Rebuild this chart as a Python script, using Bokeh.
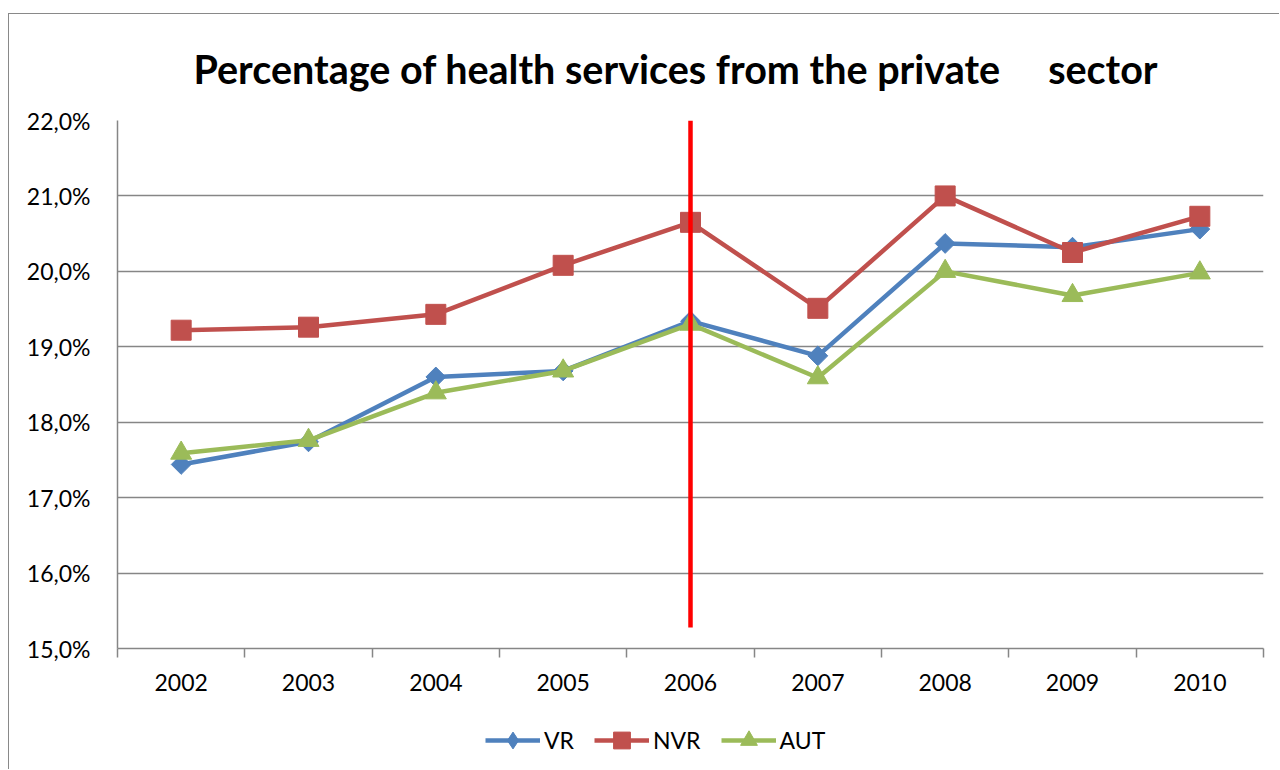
import numpy as np
from bokeh.plotting import figure
from bokeh.layouts import column
from bokeh.models import Range1d, FixedTicker, Legend, LegendItem, Title
from bokeh.embed import file_html
from bokeh.resources import INLINE

years = ["2002", "2003", "2004", "2005", "2006", "2007", "2008", "2009", "2010"]
vr = [17.44, 17.74, 18.60, 18.68, 19.34, 18.88, 20.37, 20.32, 20.56]
nvr = [19.22, 19.26, 19.43, 20.08, 20.65, 19.51, 21.00, 20.25, 20.73]
aut = [17.59, 17.76, 18.39, 18.68, 19.30, 18.59, 20.00, 19.68, 19.98]
y_ticks = [15, 16, 17, 18, 19, 20, 21, 22]
y_tick_labels = ["15,0%", "16,0%", "17,0%", "18,0%", "19,0%", "20,0%", "21,0%", "22,0%"]
marker_year = "2006"
marker_bottom = 15.28
marker_top = 22.0
title_text = "Percentage of health services from the private\u00a0\u00a0\u00a0\u00a0 sector"

FONT = "Lato"
GRAY = "#868686"
BORDER = "1px solid #898989"

xs = [i + 0.5 for i in range(len(years))]
bounds = [float(i) for i in range(len(years) + 1)]

p = figure(width=1271, height=699, output_backend="svg", toolbar_location=None,
           x_range=Range1d(0, len(years)), y_range=Range1d(15, 22),
           min_border_left=108, min_border_right=17, min_border_top=105, min_border_bottom=65,
           styles={"border-left": BORDER, "border-top": BORDER})
p.outline_line_color = None
p.background_fill_color = "white"
p.border_fill_color = "white"

t = Title(text=title_text, align="left", offset=76, standoff=57,
          text_font=FONT, text_font_size="39.5px", text_font_style="bold", text_color="black")
p.add_layout(t, "above")

# axes
p.xaxis.ticker = FixedTicker(ticks=xs, minor_ticks=bounds)
p.xaxis.major_label_overrides = {x: y for x, y in zip(xs, years)}
p.xaxis.minor_tick_line_color = GRAY
p.xaxis.minor_tick_in = 0
p.xaxis.minor_tick_out = 9
p.xaxis.major_label_standoff = 16
p.yaxis.ticker = FixedTicker(ticks=y_ticks, minor_ticks=[])
p.yaxis.major_label_overrides = {v: s for v, s in zip(y_ticks, y_tick_labels)}
p.yaxis.major_tick_in = 0
p.yaxis.major_tick_out = 9
p.yaxis.major_label_standoff = 18
for ax in (p.xaxis, p.yaxis):
    ax.axis_line_color = GRAY
    ax.axis_line_width = 1.5
    ax.major_tick_line_color = GRAY if ax is p.yaxis else None
    ax.major_tick_line_width = 1.5
    ax.minor_tick_line_width = 1.5
    ax.major_label_text_font = FONT
    ax.major_label_text_font_size = "23px"
    ax.major_label_text_color = "black"
p.xgrid.visible = False
p.ygrid.grid_line_color = GRAY
p.ygrid.grid_line_width = 1.5

# name, values, colour, chart marker, angle, size, legend marker, legend size
series = [
    ("VR", vr, "#4F81BD", "square", np.pi / 4, 14, "diamond", 22),
    ("NVR", nvr, "#C0504D", "square", 0, 20, "square", 20),
    ("AUT", aut, "#9BBB59", "triangle", 0, 21, "triangle", 21),
]

# legend strip (separate figure below the chart)
p2 = figure(width=1271, height=57, output_backend="svg", toolbar_location=None,
            x_range=Range1d(0, 1), y_range=Range1d(0, 1),
            x_axis_type=None, y_axis_type=None,
            min_border_left=0, min_border_right=0, min_border_top=0, min_border_bottom=0,
            styles={"border-left": BORDER})
p2.outline_line_color = None
p2.grid.visible = False
p2.background_fill_color = "white"
p2.border_fill_color = "white"

items = []
for name, vals, col, mk, ang, sz, lmk, lsz in series:
    p.line(xs, vals, line_color=col, line_width=4.5)
    p.scatter(xs, vals, marker=mk, angle=ang, size=sz, fill_color=col, line_color=col)
    # off-screen placeholder renderers that only feed the legend strip
    l2 = p2.line([-5, -4], [-5, -5], line_color=col, line_width=4.5)
    s2 = p2.scatter([-5], [-5], marker=lmk, size=lsz, fill_color=col, line_color=col)
    items.append(LegendItem(label=name, renderers=[l2, s2]))

xi = xs[years.index(marker_year)]
p.segment(x0=[xi], y0=[marker_bottom], x1=[xi], y1=[marker_top], line_color="#FF0000", line_width=4.5)

legend = Legend(items=items, orientation="horizontal", location=(368, 8),
                glyph_width=55, glyph_height=42, label_standoff=4, spacing=20,
                padding=0, margin=0, border_line_color=None, background_fill_alpha=0,
                label_text_font=FONT, label_text_font_size="23px", label_text_color="black")
p2.add_layout(legend, "center")

layout = column(p, p2, spacing=0, margin=(13, 0, 0, 8))
open("out.html", "w").write(file_html(layout, INLINE))
